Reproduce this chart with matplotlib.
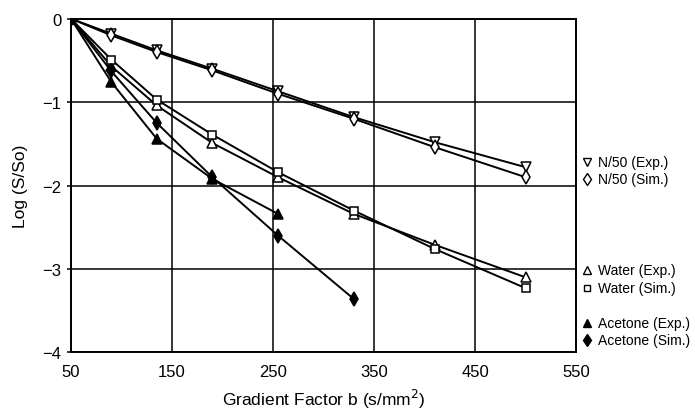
import matplotlib
matplotlib.use('Agg')
import matplotlib.pyplot as plt

plt.rcParams['font.family'] = ['Liberation Sans', 'DejaVu Sans']

# gradient factor b (s/mm^2) at each measurement
b = [50, 90, 135, 190, 255, 330, 410, 500]
b_acetone_exp = [50, 90, 135, 190, 255]
b_acetone_sim = [50, 90, 135, 190, 255, 330]

# Log (S/So)
n50_exp = [0, -0.18, -0.38, -0.60, -0.87, -1.18, -1.48, -1.78]
n50_sim = [0, -0.20, -0.40, -0.62, -0.90, -1.20, -1.54, -1.90]
water_exp = [0, -0.57, -1.04, -1.49, -1.90, -2.34, -2.71, -3.10]
water_sim = [0, -0.49, -0.97, -1.39, -1.84, -2.30, -2.76, -3.23]
acetone_exp = [0, -0.76, -1.44, -1.92, -2.34]
acetone_sim = [0, -0.63, -1.25, -1.90, -2.60, -3.36]

series = [
    (b, n50_exp, 'v', 'white', 'N/50 (Exp.)'),
    (b, n50_sim, 'd', 'white', 'N/50 (Sim.)'),
    (b, water_exp, '^', 'white', 'Water (Exp.)'),
    (b, water_sim, 's', 'white', 'Water (Sim.)'),
    (b_acetone_exp, acetone_exp, '^', 'black', 'Acetone (Exp.)'),
    (b_acetone_sim, acetone_sim, 'd', 'black', 'Acetone (Sim.)'),
]
marker_size = {'v': 7, '^': 7, 'd': 7.5, 's': 6}

fig = plt.figure(figsize=(6.95, 4.1), dpi=100)
ax = fig.add_axes([0.102, 0.138, 0.727, 0.814])

for x, y, m, fc, lab in series:
    ax.plot(x, y, color='black', lw=1.4, marker=m, ms=marker_size[m],
            mfc=fc, mec='black', mew=1.1, zorder=3)

ax.set_xlim(50, 550)
ax.set_ylim(-4, 0)
ax.set_xticks(range(50, 551, 100))
ax.set_yticks([0, -1, -2, -3, -4])
ax.set_yticklabels(['0', '\u22121', '\u22122', '\u22123', '\u22124'])
ax.grid(True, color='black', lw=1.1)
for s in ax.spines.values():
    s.set_linewidth(1.4)
ax.tick_params(direction='out', length=3, width=1.1, labelsize=12, pad=4)
ax.tick_params(axis='x', length=0, pad=8)

ax.set_xlabel('Gradient Factor b (s/mm$^2$)', fontsize=12.5, labelpad=6)
ax.set_ylabel('Log (S/So)', fontsize=12.5, labelpad=10)

# legend entries, grouped by sample, at the right of the plot
legend_y = [0.570, 0.519, 0.247, 0.194, 0.088, 0.037]
for (x, y, m, fc, lab), ly in zip(series, legend_y):
    ax.plot([1.021], [ly], transform=ax.transAxes, clip_on=False, ls='none',
            marker=m, ms=marker_size[m] - 1.5, mfc=fc, mec='black', mew=1.0)
    ax.text(1.043, ly, lab, transform=ax.transAxes, fontsize=10,
            va='center', ha='left')

fig.savefig('out.png', dpi=100)
